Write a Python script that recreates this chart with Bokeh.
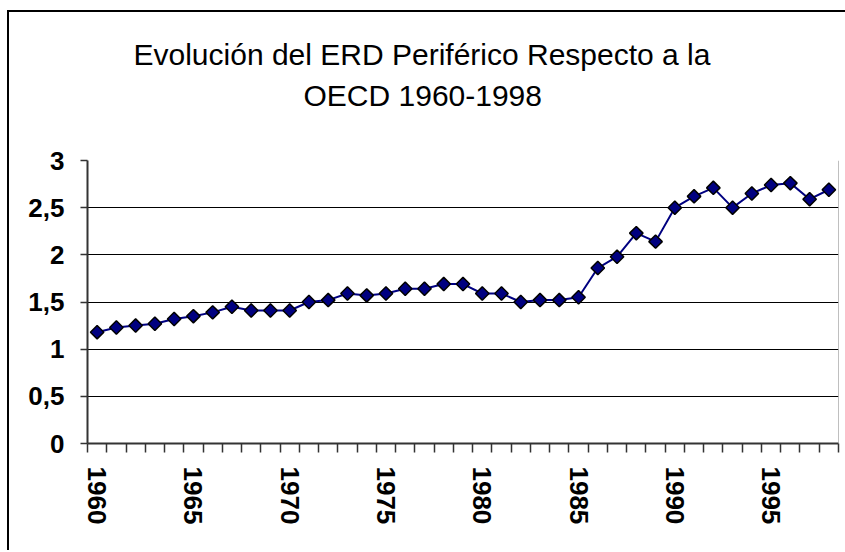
import math
from bokeh.plotting import figure
from bokeh.models import Range1d, FixedTicker, Title, Span
from bokeh.embed import file_html
from bokeh.resources import INLINE

# ---- data ----
years = [1960, 1961, 1962, 1963, 1964, 1965, 1966, 1967, 1968, 1969,
         1970, 1971, 1972, 1973, 1974, 1975, 1976, 1977, 1978, 1979,
         1980, 1981, 1982, 1983, 1984, 1985, 1986, 1987, 1988, 1989,
         1990, 1991, 1992, 1993, 1994, 1995, 1996, 1997, 1998]
ratio = [1.18, 1.23, 1.25, 1.27, 1.32, 1.35, 1.39, 1.45, 1.41, 1.41,
         1.41, 1.50, 1.52, 1.59, 1.57, 1.59, 1.64, 1.64, 1.69, 1.69,
         1.59, 1.59, 1.50, 1.52, 1.52, 1.55, 1.86, 1.98, 2.23, 2.14,
         2.50, 2.62, 2.71, 2.50, 2.65, 2.74, 2.76, 2.59, 2.69]
x_label_years = [1960, 1965, 1970, 1975, 1980, 1985, 1990, 1995]
y_ticks = [0, 0.5, 1, 1.5, 2, 2.5, 3]
y_tick_labels = ["0", "0,5", "1", "1,5", "2", "2,5", "3"]
title_lines = ["Evolución del ERD Periférico Respecto a la", "OECD 1960-1998"]

FONT = "Liberation Sans"
AXIS_COLOR = "#333333"

W, H = 836, 538
x0, x1 = years[0] - 0.5, years[-1] + 0.5
y0, y1 = y_ticks[0], y_ticks[-1]

p = figure(width=W, height=H, output_backend="svg", toolbar_location=None,
           x_range=Range1d(x0, x1), y_range=Range1d(y0, y1),
           min_border_left=78, min_border_right=9,
           min_border_top=148, min_border_bottom=109,
           background_fill_color="white", border_fill_color="white",
           styles={"margin-left": "7px", "margin-top": "10px",
                   "box-sizing": "content-box",
                   "border-left": "2px solid black", "border-top": "2px solid black",
                   "border-right": "0px none", "border-bottom": "0px none",
                   "outline": "none"})
p.title.visible = False
p.outline_line_color = None

# two-line title (spacer first: the first one added sits closest to the frame)
title_style = dict(align="left", text_font=FONT, text_font_size="30px",
                   text_font_style="normal", text_color="black")
p.add_layout(Title(text=" ", standoff=8, **title_style), "above")
p.add_layout(Title(text=title_lines[1], offset=216, standoff=12, **title_style), "above")
p.add_layout(Title(text=title_lines[0], offset=46, standoff=0, **title_style), "above")

# right edge of the plot area
p.add_layout(Span(location=x1, dimension="height", line_color="#808080", line_width=1))

# x axis: category boundaries as minor ticks, labels every 5 years
p.xaxis.ticker = FixedTicker(ticks=x_label_years,
                             minor_ticks=[y - 0.5 for y in years] + [years[-1] + 0.5])
p.xaxis.major_label_orientation = -math.pi / 2
p.xaxis.major_tick_out = 0
p.xaxis.major_tick_in = 0
p.xaxis.minor_tick_out = 9
p.xaxis.minor_tick_in = 0
p.xaxis.minor_tick_line_color = AXIS_COLOR
p.xaxis.minor_tick_line_width = 1.5
p.xaxis.major_label_standoff = 14
p.xgrid.visible = False

# y axis
p.yaxis.ticker = FixedTicker(ticks=y_ticks, minor_ticks=[])
p.yaxis.major_label_overrides = {t: lab for t, lab in zip(y_ticks, y_tick_labels)}
p.yaxis.major_tick_out = 7
p.yaxis.major_tick_in = 0
p.yaxis.major_label_standoff = 16
p.ygrid.ticker = FixedTicker(ticks=y_ticks, minor_ticks=[])
p.ygrid.grid_line_color = "black"
p.ygrid.grid_line_width = 1

for ax in (p.xaxis, p.yaxis):
    ax.axis_line_color = AXIS_COLOR
    ax.axis_line_width = 2
    ax.major_tick_line_color = AXIS_COLOR
    ax.major_tick_line_width = 1.5
    ax.major_label_text_font = FONT
    ax.major_label_text_font_style = "bold"
    ax.major_label_text_font_size = "26px"
    ax.major_label_text_color = "black"

# series
p.line(years, ratio, line_color="#000080", line_width=2)
p.scatter(years, ratio, marker="square", angle=math.pi / 4, size=9.5,
          fill_color="#000080", line_color="black", line_width=1.5)

open("out.html", "w").write(file_html(p, INLINE))
